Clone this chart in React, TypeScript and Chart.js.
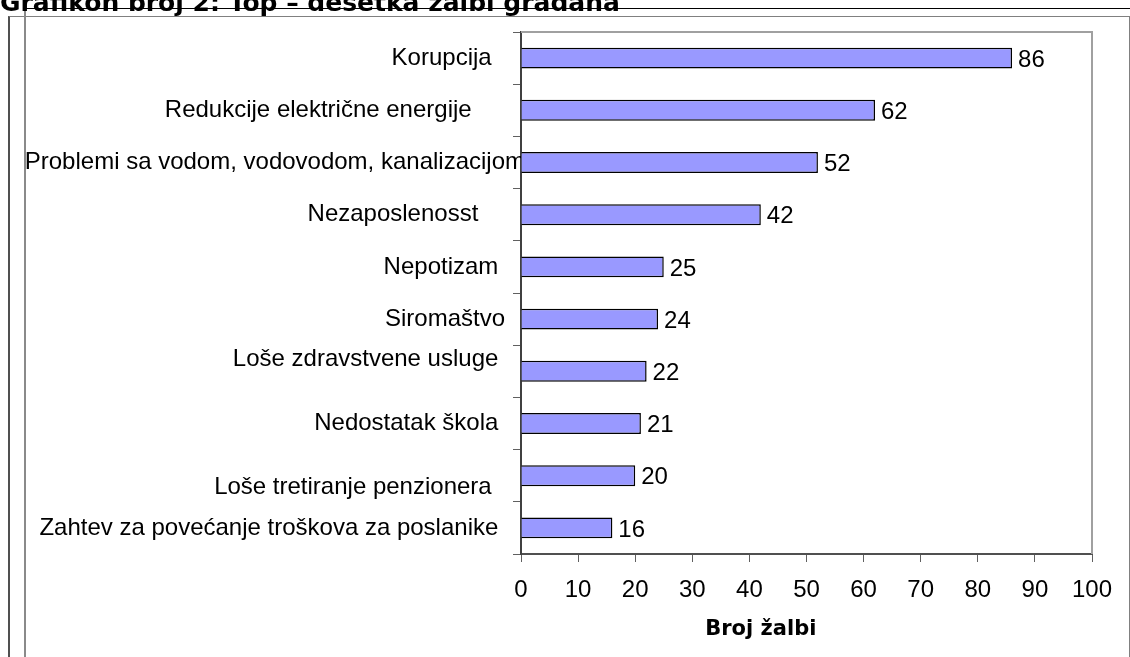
import { useEffect, useRef } from 'react';
import { Chart, registerables } from 'chart.js';

Chart.register(...registerables);

// Category labels (trailing spaces / empty lines mimic the original label placement)
const categories: (string | string[])[] = [
  'Korupcija     ',
  'Redukcije električne energije        ',
  'Problemi sa vodom, vodovodom, kanalizacijom',
  'Nezaposlenosst       ',
  'Nepotizam    ',
  'Siromaštvo   ',
  ['Loše zdravstvene usluge    ', ''],
  'Nedostatak škola    ',
  ['', 'Loše tretiranje penzionera     '],
  'Zahtev za povećanje troškova za poslanike    ',
];
const values: number[] = [86, 62, 52, 42, 25, 24, 22, 21, 20, 16];
const xMin = 0;
const xMax = 100;
const xStep = 10;

const chartTitle = 'Grafikon broj 2: Top – desetka žalbi građana';
const xAxisTitle = 'Broj žalbi';

const LABEL_FONT = '"Liberation Sans", Arial, sans-serif';
const BOLD_FONT = '"DejaVu Sans", Verdana, sans-serif';
const LABEL_SIZE = 24;

export default function App() {
  const ref = useRef<HTMLCanvasElement>(null);

  useEffect(() => {
    document.body.style.margin = '0';
    const canvas = ref.current;
    if (!canvas) return;

    const plotBorder = {
      id: 'plotBorder',
      beforeDatasetsDraw(chart: any) {
        const { ctx, chartArea: a } = chart;
        ctx.save();
        ctx.strokeStyle = '#a0a0a0';
        ctx.lineWidth = 2;
        ctx.beginPath();
        ctx.moveTo(a.left, a.top);
        ctx.lineTo(a.right, a.top);
        ctx.lineTo(a.right, a.bottom);
        ctx.stroke();
        ctx.restore();
      },
    };

    const valueLabels = {
      id: 'valueLabels',
      afterDatasetsDraw(chart: any) {
        const { ctx } = chart;
        const meta = chart.getDatasetMeta(0);
        ctx.save();
        ctx.fillStyle = '#000';
        ctx.font = `${LABEL_SIZE}px ${LABEL_FONT}`;
        ctx.textAlign = 'left';
        ctx.textBaseline = 'middle';
        meta.data.forEach((bar: any, i: number) => {
          ctx.fillText(String(values[i]), bar.x + 6, bar.y + 2);
        });
        ctx.restore();
      },
    };

    const axisTitle = {
      id: 'axisTitle',
      afterDraw(chart: any) {
        const { ctx, chartArea: a } = chart;
        ctx.save();
        ctx.fillStyle = '#000';
        ctx.font = `bold 21px ${BOLD_FONT}`;
        ctx.textAlign = 'center';
        ctx.textBaseline = 'middle';
        ctx.fillText(xAxisTitle, a.left + (a.right - a.left) * 0.42, 630);
        ctx.restore();
      },
    };

    const chart = new Chart(canvas, {
      type: 'bar',
      data: {
        labels: categories,
        datasets: [
          {
            data: values,
            backgroundColor: '#9999ff',
            borderColor: '#000000',
            borderWidth: 1.5,
            barPercentage: 0.4,
            categoryPercentage: 1,
          },
        ],
      },
      options: {
        indexAxis: 'y',
        responsive: false,
        animation: false,
        devicePixelRatio: 1,
        layout: { padding: { left: 0, top: 32, right: 38, bottom: 0 } },
        plugins: {
          legend: { display: false },
          tooltip: { enabled: false },
          title: { display: false },
        },
        scales: {
          x: {
            type: 'linear',
            min: xMin,
            max: xMax,
            ticks: {
              stepSize: xStep,
              color: '#000',
              padding: 16,
              maxRotation: 0,
              font: { family: LABEL_FONT, size: LABEL_SIZE, lineHeight: 1 },
            },
            grid: {
              drawOnChartArea: false,
              drawTicks: true,
              tickLength: 8,
              color: '#606060',
              lineWidth: 1,
            },
            border: { display: true, color: '#505050', width: 2 },
            afterFit(scale: any) {
              scale.height = 103;
            },
          },
          y: {
            type: 'category',
            ticks: {
              color: '#000',
              padding: -12,
              autoSkip: false,
              font: { family: LABEL_FONT, size: LABEL_SIZE, lineHeight: 1 },
            },
            grid: {
              drawOnChartArea: false,
              drawTicks: true,
              tickLength: 8,
              color: '#606060',
              lineWidth: 1,
              offset: true,
            },
            border: { display: true, color: '#404040', width: 2 },
            afterFit(scale: any) {
              scale.width = 521;
            },
          },
        },
      },
      plugins: [plotBorder, valueLabels, axisTitle],
    });

    return () => chart.destroy();
  }, []);

  return (
    <div
      style={{
        position: 'absolute',
        left: 0,
        top: 0,
        width: 1130,
        height: 657,
        overflow: 'hidden',
        background: '#ffffff',
      }}
    >
      <div
        style={{
          position: 'absolute',
          left: 8,
          top: 16,
          width: 1119,
          height: 700,
          borderTop: '1px solid #808080',
          borderRight: '2px solid #808080',
          borderLeft: '2px solid #505050',
        }}
      />
      <div style={{ position: 'absolute', left: 24, top: 8, width: 2, height: 700, background: '#8a8a8a' }} />
      <div style={{ position: 'absolute', left: 24, top: 8, right: 0, height: 1, background: '#000' }} />
      <canvas ref={ref} width={1130} height={657} style={{ position: 'absolute', left: 0, top: 0 }} />
      <div
        style={{
          position: 'absolute',
          left: 0,
          top: -10,
          fontFamily: BOLD_FONT,
          fontWeight: 'bold',
          fontSize: 25,
          lineHeight: '25px',
          whiteSpace: 'nowrap',
          color: '#000',
        }}
      >
        {chartTitle}
      </div>
    </div>
  );
}
